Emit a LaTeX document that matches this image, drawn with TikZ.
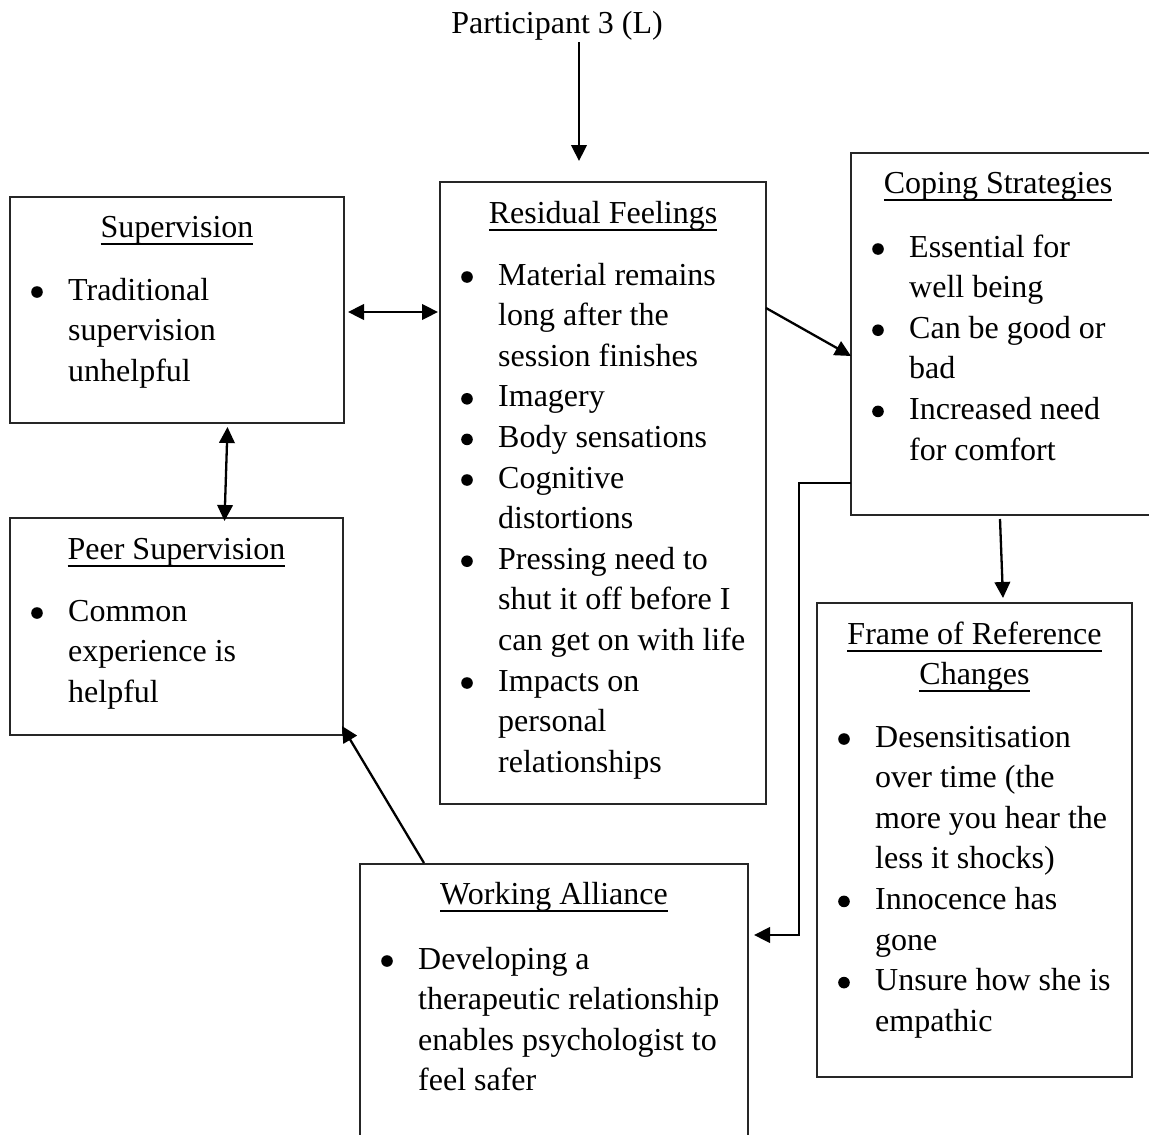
\documentclass[tikz,border=0pt]{standalone}
\usepackage{fontspec}
\setmainfont{Liberation Serif}
\usetikzlibrary{arrows.meta,calc}
% underlined heading: fixed rule below the baseline
\newsavebox{\headbox}
\newcommand{\uln}[1]{\sbox{\headbox}{#1}\rlap{\rule[-7.6pt]{\wd\headbox}{1.3pt}}\usebox{\headbox}}
% bullet list: #1 = bullet column width, #2 = rows
\newcommand{\blist}[2]{\begin{tabular}[t]{@{}p{#1}@{}l@{}}#2\end{tabular}}
% round list bullet sitting on the text baseline
\newcommand{\bu}{\tikz[baseline={(0,0)}]\fill (5.8,-8) circle[radius=5.8];}

\tikzset{
  x=1pt, y=-1pt,
  >={Triangle[length=16pt,width=15.5pt]},
  box/.style={draw=black!85, line width=1.2pt, inner sep=0pt, outer sep=0pt},
  ttl/.style={anchor=base, inner sep=0pt, font=\fontsize{32}{40.6}\selectfont},
  body/.style={anchor=base west, inner sep=0pt, font=\fontsize{32}{40.6}\selectfont},
  conn/.style={line width=2.3pt, ->},
  dconn/.style={line width=2.3pt, <->},
}

\begin{document}
\begin{tikzpicture}
\useasboundingbox (0,0) rectangle (1149,1135);
\clip (0,0) rectangle (1149,1135);
\fill[white] (0,0) rectangle (1149,1135);

% boxes
\node[box, minimum width=334pt, minimum height=226pt] (sup)   at (177,310) {};
\node[box, minimum width=333pt, minimum height=217pt] (peer)  at (176.5,626.5) {};
\node[box, minimum width=326pt, minimum height=622pt] (res)   at (603,493) {};
\node[box, minimum width=300pt, minimum height=362pt] (cop)   at (1001,334) {};
\node[box, minimum width=315pt, minimum height=474pt] (frame) at (974.5,840) {};
\node[box, minimum width=388pt, minimum height=281pt] (work)  at (554,1004.5) {};

% heading
\node[ttl] (part) at (557,34) {Participant 3 (L)};

% Supervision
\node[ttl] (supT) at (177,237) {\uln{Supervision}};
\node[body] (supB) at (31,300) {\blist{37pt}{\bu & Traditional\\ & supervision\\ & unhelpful}};

% Peer Supervision
\node[ttl] (peerT) at (176.5,559) {\uln{Peer Supervision}};
\node[body] (peerB) at (31,621) {\blist{37pt}{\bu & Common\\ & experience is\\ & helpful}};

% Residual Feelings
\node[ttl] (resT) at (603,223) {\uln{Residual Feelings}};
\node[body] (resB) at (461,285) {\blist{37pt}{%
\bu & Material remains\\ & long after the\\ & session finishes\\
\bu & Imagery\\
\bu & Body sensations\\
\bu & Cognitive\\ & distortions\\
\bu & Pressing need to\\ & shut it off before I\\ & can get on with life\\
\bu & Impacts on\\ & personal\\ & relationships}};

% Coping Strategies
\node[ttl] (copT) at (998,193) {\uln{Coping Strategies}};
\node[body] (copB) at (872,257) {\blist{37pt}{%
\bu & Essential for\\ & well being\\
\bu & Can be good or\\ & bad\\
\bu & Increased need\\ & for comfort}};

% Frame of Reference Changes
\node[ttl] (frT1) at (974.5,644) {\uln{Frame of Reference}};
\node[ttl] (frT2) at (974.5,684) {\uln{Changes}};
\node[body] (frB) at (838,747) {\blist{37pt}{%
\bu & Desensitisation\\ & over time (the\\ & more you hear the\\ & less it shocks)\\
\bu & Innocence has\\ & gone\\
\bu & Unsure how she is\\ & empathic}};

% Working Alliance
\node[ttl] (workT) at (554,904) {\uln{Working Alliance}};
\node[body] (workB) at (381,969) {\blist{37pt}{%
\bu & Developing a\\ & therapeutic relationship\\ & enables psychologist to\\ & feel safer}};

% connector end points
\coordinate (pA) at (579,42);
\coordinate (pB) at (579,161);
\coordinate (sr1) at (348,312);
\coordinate (sr2) at (438,312);
\coordinate (sp1) at (227.5,427);
\coordinate (sp2) at (224.5,521);
\coordinate (rc1) at (766,308);
\coordinate (rc2) at (851,356);
\coordinate (cf1) at (1000,519);
\coordinate (cf2) at (1003,598);
\coordinate (wp1) at (424,863);
\coordinate (wp2) at (342,726);
\coordinate (cw1) at (851,483);
\coordinate (cwA) at (799,483);
\coordinate (cwB) at (799,935);
\coordinate (cw2) at (754,935);

% connectors
\draw[conn] (pA) -- (pB);
\draw[dconn] (sr1) -- (sr2);
\draw[dconn] (sp1) -- (sp2);
\draw[conn] (rc1) -- (rc2);
\draw[conn] (cf1) -- (cf2);
\draw[conn] (wp1) -- (wp2);
\draw[conn, line join=miter] (cw1) -- (cwA) -- (cwB) -- (cw2);
\end{tikzpicture}
\end{document}
